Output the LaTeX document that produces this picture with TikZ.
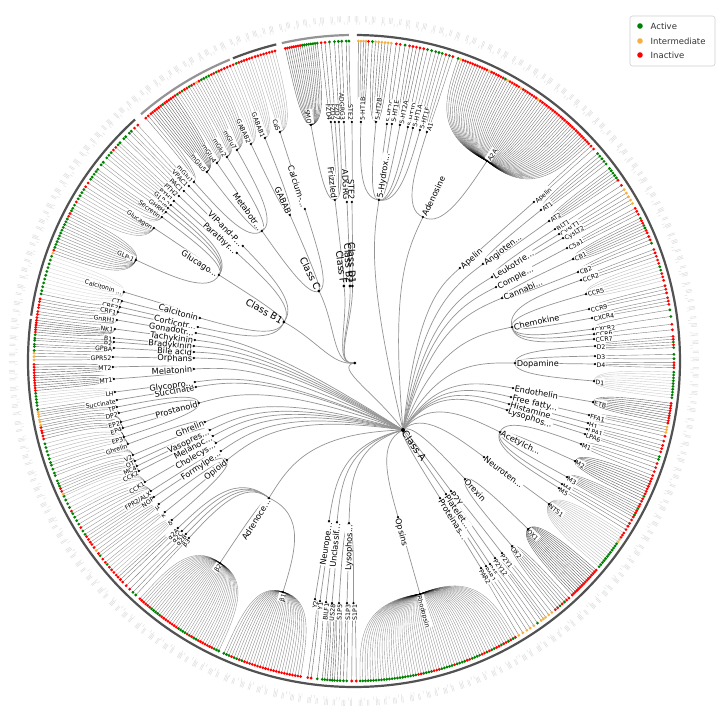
\documentclass[tikz,border=0pt]{standalone}
\usepackage{fontspec}
\setmainfont{DejaVu Sans}
\usepackage{xstring}
\definecolor{cg}{HTML}{008000}
\definecolor{co}{HTML}{F5B041}
\definecolor{cr}{HTML}{FF0000}
\tikzset{
 trline/.style={line width=0.7pt, black!42},
 leafline/.style={line width=0.4pt, black},
 fam/.style={font=\fontsize{8.2}{9}\selectfont, fill=white, text height=0.72em, text depth=0.02em, inner xsep=0.5pt, inner ysep=0.1pt, outer sep=1.4pt},
 rec/.style={font=\fontsize{6.2}{7}\selectfont, fill=white, text height=0.71em, text depth=0em, inner xsep=0.4pt, inner ysep=0pt, outer sep=1.2pt},
 cls/.style={font=\fontsize{9.5}{11}\selectfont, inner sep=2pt},
 arcdark/.style={line width=2.2pt, black!68},
 arclight/.style={line width=2.2pt, black!42},
 legtext/.style={anchor=west, inner sep=0pt, font=\fontsize{8.5}{10}\selectfont, text=black!80},
}
\newcommand\gth[1]{\csname gth@#1\endcsname}
\newcommand\grr[1]{\csname gr@#1\endcsname}
\newcommand\defn[3]{%
  \pgfmathsetmacro\tmpx{#2-354}%
  \pgfmathsetmacro\tmpy{361-#3}%
  \pgfmathsetmacro\tmpth{atan2(\tmpy,\tmpx)}%
  \pgfmathsetmacro\tmpr{veclen(\tmpx,\tmpy)}%
  \expandafter\xdef\csname gth@#1\endcsname{\tmpth}%
  \expandafter\xdef\csname gr@#1\endcsname{\tmpr}%
  \coordinate (#1) at (\tmpx pt,\tmpy pt);%
}
\newcommand\lab[3]{%
  \pgfmathsetmacro\labcos{cos(\gth{#1})}%
  \ifdim\labcos pt<-0.0001pt
    \pgfmathsetmacro\rotang{\gth{#1}+180}%
    \node[#2, anchor=east, rotate=\rotang] (#1-t) at (#1) {#3};%
  \else
    \node[#2, anchor=west, rotate=\gth{#1}] (#1-t) at (#1) {#3};%
  \fi
}
\newcommand\link[2]{%
  \pgfmathsetmacro\rmid{(\grr{#1}+\grr{#2})/2}%
  \draw[trline] (#1) .. controls (\gth{#2}:\grr{#1}pt) and (\gth{#2}:\rmid pt) .. (#2);%
}
% pass macros for tree nodes
\newcommand\ndDef[6]{\defn{#1}{#2}{#3}}
\newcommand\ndEdge[6]{\link{#4}{#1}}
\newcommand\ndNode[6]{\lab{#1}{#5}{#6}\fill[black] (#1) circle (1.25pt);}
\newcommand\cndDef[4]{\defn{#1}{#2}{#3}}
\newcommand\cndEdge[4]{%
  \pgfmathsetmacro\rmid{\grr{#1}*0.5}%
  \draw[trline] (R) .. controls (-22pt,-5pt) and (\gth{#1}:\rmid pt) .. (#1);}
\newcommand\cndNode[4]{\fill[black] (#1) circle (1.5pt);\lab{#1}{cls}{#4}}
% pass macros for leaves
\newcommand\fanLines[6]{%
  \pgfmathsetmacro\rmidf{(\grr{#1}+320)/2}%
  \foreach \i in {1,...,#4}{%
    \pgfmathsetmacro\ang{#2+((#3)-(#2))*(\i-1)/max(#4-1,1)}%
    \draw[leafline, opacity=#6] (#1) .. controls (\ang:\grr{#1}pt) and (\ang:\rmidf pt) .. (\ang:320pt);%
  }%
}
\newcommand\fanDots[6]{%
  \StrLen{#5}[\clen]%
  \foreach \i in {1,...,#4}{%
    \pgfmathsetmacro\ang{#2+((#3)-(#2))*(\i-1)/max(#4-1,1)}%
    \pgfmathtruncatemacro\ci{mod(\i-1,\clen)+1}%
    \StrChar{#5}{\ci}[\cch]%
    \edef\tmpc{c\cch}%
    \fill[fill=\tmpc] (\ang:320pt) circle (1.55pt);%
  }%
}
\newcommand\TreeData{%
\cnd{CA}{403}{430}{Class A}
\cnd{CB1}{284}{322}{Class B1}
\cnd{CC}{319}{291}{Class C}
\cnd{CD1}{352.5}{286}{Class D1}
\cnd{CB2}{350}{286}{Class B2}
\cnd{CF}{344}{286}{Class F}
\nd{Metab}{262}{231}{CC}{fam}{Metabotr...}
\nd{GABABf}{290}{215}{CC}{fam}{GABAB}
\nd{Calc}{305}{209}{CC}{fam}{Calcium-...}
\nd{mGlu1}{194}{182}{Metab}{rec}{mGlu1}
\nd{mGlu5}{207}{172}{Metab}{rec}{mGlu5}
\nd{mGlu4}{217}{163}{Metab}{rec}{mGlu4}
\nd{mGlu2}{227}{157}{Metab}{rec}{mGlu2}
\nd{mGlu7}{237}{150}{Metab}{rec}{mGlu7}
\nd{GABAB2}{251}{144}{GABABf}{rec}{GABAB2}
\nd{GABAB1}{265}{138}{GABABf}{rec}{GABAB1}
\nd{CaS}{280}{132}{Calc}{rec}{CaS}
\nd{Glucf}{219}{275}{CB1}{fam}{Glucago...}
\nd{VIPf}{243}{246}{CB1}{fam}{VIP-and-P...}
\nd{PTHf}{237}{253}{CB1}{fam}{Parathyr...}
\nd{Calcf}{200}{318}{CB1}{fam}{Calcitonin}
\nd{CRFf}{198}{327}{CB1}{fam}{Corticotr...}
\nd{VPAC1}{189}{186}{VIPf}{rec}{VPAC1}
\nd{PAC1}{184}{191}{VIPf}{rec}{PAC1}
\nd{PTH2}{179}{196}{PTHf}{rec}{PTH2}
\nd{PTH1}{174}{201}{PTHf}{rec}{PTH1}
\nd{GLP2}{171}{205}{Glucf}{rec}{GLP-2}
\nd{GIP}{168}{208}{Glucf}{rec}{GIP}
\nd{GHRH}{166}{212}{Glucf}{rec}{GHRH}
\nd{Secretin}{162}{217}{Glucf}{rec}{Secretin}
\nd{Glucagon}{154}{228}{Glucf}{rec}{Glucagon}
\nd{GLP1}{136}{260}{Glucf}{rec}{GLP-1}
\nd{CalcR}{124}{292}{Calcf}{rec}{Calcitonin ...}
\nd{CT}{122}{301}{Calcf}{rec}{CT}
\nd{CRF2}{120}{307}{CRFf}{rec}{CRF2}
\nd{CRF1}{118}{312}{CRFf}{rec}{CRF1}
\nd{Frizf}{335}{200}{CF}{fam}{Frizzled}
\nd{SMO}{311}{125}{Frizf}{rec}{SMO}
\nd{FZD4}{331}{122}{Frizf}{rec}{FZD4}
\nd{FZD5}{335}{122}{Frizf}{rec}{FZD5}
\nd{FZD7}{339}{122}{Frizf}{rec}{FZD7}
\nd{ADGRGf}{347}{202}{CB2}{fam}{ADGRG}
\nd{ADGRG3}{344}{122}{ADGRGf}{rec}{ADGRG3}
\nd{STE2f}{352}{202}{CD1}{fam}{STE2}
\nd{STE2}{352}{122}{STE2f}{rec}{STE2}
\nd{HTf}{379}{200}{CA}{fam}{5-Hydrox...}
\nd{HT1B}{361}{122}{HTf}{rec}{5-HT1B}
\nd{HT2B}{376}{122}{HTf}{rec}{5-HT2B}
\nd{HT2C}{387}{124}{HTf}{rec}{5-HT2C}
\nd{HT1E}{392}{124}{HTf}{rec}{5-HT1E}
\nd{HT2A}{400}{125}{HTf}{rec}{5-HT2A}
\nd{HT1D}{408}{127}{HTf}{rec}{5-HT1D}
\nd{HT1A}{413}{128}{HTf}{rec}{5-HT1A}
\nd{HT1F}{420}{130}{HTf}{rec}{5-HT1F}
\nd{Adof}{423}{217}{CA}{fam}{Adenosine}
\nd{A1}{427}{132}{Adof}{rec}{A1}
\nd{A2A}{487}{161}{Adof}{rec}{A2A}
\nd{Apef}{460}{268}{CA}{fam}{Apelin}
\nd{Apelin}{534}{202}{Apef}{rec}{Apelin}
\nd{Angf}{483}{264}{CA}{fam}{Angioten...}
\nd{AT1}{541}{210}{Angf}{rec}{AT1}
\nd{AT2}{549}{221}{Angf}{rec}{AT2}
\nd{Leuf}{492}{277}{CA}{fam}{Leukotrie...}
\nd{BLT1}{555}{229}{Leuf}{rec}{BLT1}
\nd{CysLT1}{559}{234}{Leuf}{rec}{CysLT1}
\nd{CysLT2}{563}{238}{Leuf}{rec}{CysLT2}
\nd{Comf}{496}{287}{CA}{fam}{Comple...}
\nd{C5a1}{567}{248}{Comf}{rec}{C5a1}
\nd{Canf}{502}{298}{CA}{fam}{Cannabi...}
\nd{CB1r}{573}{259}{Canf}{rec}{CB1}
\nd{CB2r}{578}{272}{Canf}{rec}{CB2}
\nd{Chef}{512}{327}{CA}{fam}{Chemokine}
\nd{CCR2}{581}{280}{Chef}{rec}{CCR2}
\nd{CCR5}{586}{294}{Chef}{rec}{CCR5}
\nd{CCR9}{589}{309}{Chef}{rec}{CCR9}
\nd{CXCR4}{592}{318}{Chef}{rec}{CXCR4}
\nd{CXCR2}{593}{329}{Chef}{rec}{CXCR2}
\nd{CCR6}{594}{334}{Chef}{rec}{CCR6}
\nd{CCR7}{594}{339}{Chef}{rec}{CCR7}
\nd{Dopf}{515}{363}{CA}{fam}{Dopamine}
\nd{D2}{595}{346}{Dopf}{rec}{D2}
\nd{D3}{595}{356}{Dopf}{rec}{D3}
\nd{D4}{595}{364}{Dopf}{rec}{D4}
\nd{D1}{594}{381}{Dopf}{rec}{D1}
\nd{Endf}{513}{388}{CA}{fam}{Endothelin}
\nd{ETB}{593}{402}{Endf}{rec}{ETB}
\nd{FFAf}{511}{397}{CA}{fam}{Free fatty...}
\nd{FFA1}{589}{415}{FFAf}{rec}{FFA1}
\nd{Hisf}{509}{404}{CA}{fam}{Histamine}
\nd{H1}{588}{423}{Hisf}{rec}{H1}
\nd{LysAf}{507}{410}{CA}{fam}{Lysophos...}
\nd{LPA1}{587}{429}{LysAf}{rec}{LPA1}
\nd{LPA6}{585}{434}{LysAf}{rec}{LPA6}
\nd{Acef}{500}{432}{CA}{fam}{Acetylch...}
\nd{M1}{581}{444}{Acef}{rec}{M1}
\nd{M2}{575}{461}{Acef}{rec}{M2}
\nd{M3}{567}{477}{Acef}{rec}{M3}
\nd{M4}{562}{484}{Acef}{rec}{M4}
\nd{M5}{559}{488}{Acef}{rec}{M5}
\nd{Neuf}{484}{457}{CA}{fam}{Neuroten...}
\nd{NTS1}{549}{504}{Neuf}{rec}{NTS1}
\nd{Orxf}{465}{479}{CA}{fam}{Orexin}
\nd{OX1}{528}{529}{Orxf}{rec}{OX1}
\nd{OX2}{512}{546}{Orxf}{rec}{OX2}
\nd{P2Yf}{451}{491}{CA}{fam}{P2Y}
\nd{P2Y1}{502}{553}{P2Yf}{rec}{P2Y1}
\nd{P2Y12}{495}{558}{P2Yf}{rec}{P2Y12}
\nd{Plaf}{446}{494}{CA}{fam}{Platelet...}
\nd{PAF}{490}{564}{Plaf}{rec}{PAF}
\nd{Prof}{440}{498}{CA}{fam}{Proteinas...}
\nd{PAR1}{486}{566}{Prof}{rec}{PAR1}
\nd{PAR2}{481}{568}{Prof}{rec}{PAR2}
\nd{Opsf}{398}{517}{CA}{fam}{Opsins}
\nd{Rho}{420}{594}{Opsf}{rec}{Rhodopsin}
\nd{LysSf}{349}{523}{CA}{fam}{Lysophos...}
\nd{S1P1}{353.5}{603}{LysSf}{rec}{S1P1}
\nd{S1P3}{347}{603}{LysSf}{rec}{S1P3}
\nd{S1P5}{339}{603}{LysSf}{rec}{S1P5}
\nd{Uncf}{337}{522}{CA}{fam}{Unclassif...}
\nd{US28}{332}{603}{Uncf}{rec}{US28}
\nd{BILF1}{326}{602}{Uncf}{rec}{BILF1}
\nd{NPYf}{329}{521}{CA}{fam}{Neurope...}
\nd{Y1}{320}{601}{NPYf}{rec}{Y1}
\nd{Y2}{315}{599}{NPYf}{rec}{Y2}
\nd{Adrf}{269}{498}{CA}{fam}{Adrenoce...}
\nd{b1}{283}{592}{Adrf}{rec}{β1}
\nd{b2}{220}{563}{Adrf}{rec}{β2}
\nd{b3}{189}{538}{Adrf}{rec}{β3}
\nd{a2B}{186}{534}{Adrf}{rec}{α2B}
\nd{a2C}{182}{531}{Adrf}{rec}{α2C}
\nd{a2A}{178}{528}{Adrf}{rec}{α2A}
\nd{Opif}{227}{460}{CA}{fam}{Opioid}
\nd{del}{172}{520}{Opif}{rec}{δ}
\nd{kap}{165}{512}{Opif}{rec}{κ}
\nd{mu}{159}{504}{Opif}{rec}{μ}
\nd{NOP}{154}{497}{Opif}{rec}{NOP}
\nd{Forf}{221}{451}{CA}{fam}{Formylpe...}
\nd{FPR2}{151}{491}{Forf}{rec}{FPR2/ALX}
\nd{Chof}{216}{443}{CA}{fam}{Cholecys...}
\nd{CCK1}{145}{482}{Chof}{rec}{CCK1}
\nd{CCK2}{139}{471}{Chof}{rec}{CCK2}
\nd{Melf}{213}{436}{CA}{fam}{Melanoc...}
\nd{MC4}{137}{466}{Melf}{rec}{MC4}
\nd{Vasf}{210}{430}{CA}{fam}{Vasopres...}
\nd{OT}{135}{461}{Vasf}{rec}{OT}
\nd{V2}{133}{455}{Vasf}{rec}{V2}
\nd{Ghrf}{205}{422}{CA}{fam}{Ghrelin}
\nd{GhrR}{128}{444}{Ghrf}{rec}{Ghrelin}
\nd{Prosf}{199}{403}{CA}{fam}{Prostanoid}
\nd{EP3}{124}{437}{Prosf}{rec}{EP3}
\nd{EP4}{123}{428}{Prosf}{rec}{EP4}
\nd{EP2}{121}{422}{Prosf}{rec}{EP2}
\nd{DP2}{119}{413}{Prosf}{rec}{DP2}
\nd{TP}{117}{407}{Prosf}{rec}{TP}
\nd{Sucf}{196}{387}{CA}{fam}{Succinate}
\nd{SucR}{117}{400}{Sucf}{rec}{Succinate}
\nd{Glyf}{195}{382}{CA}{fam}{Glycopro...}
\nd{LH}{115}{392}{Glyf}{rec}{LH}
\nd{Mtf}{194}{369}{CA}{fam}{Melatonin}
\nd{MT1}{114}{379}{Mtf}{rec}{MT1}
\nd{MT2}{113}{367}{Mtf}{rec}{MT2}
\nd{Orpf}{194}{358}{CA}{fam}{Orphans}
\nd{GPR52}{113}{357}{Orpf}{rec}{GPR52}
\nd{Bilf}{194}{352}{CA}{fam}{Bile acid}
\nd{GPBA}{114}{348}{Bilf}{rec}{GPBA}
\nd{Braf}{194}{346}{CA}{fam}{Bradykinin}
\nd{B2}{114}{342}{Braf}{rec}{B2}
\nd{B1}{114}{338}{Braf}{rec}{B1}
\nd{Tacf}{195}{340}{CA}{fam}{Tachykinin}
\nd{NK1}{115}{329}{Tacf}{rec}{NK1}
\nd{Gonf}{196}{333}{CA}{fam}{Gonadotr...}
\nd{GnRH1}{117}{320}{Gonf}{rec}{GnRH1}
}
\newcommand\FanData{%
\fan{mGlu1}{130.6}{129.4}{3}{rrr}{0.5}
\fan{mGlu5}{129}{124}{12}{rrrrrgrrrrrr}{0.6}
\fan{mGlu4}{123.5}{121}{6}{grgrrg}{0.4}
\fan{mGlu2}{120.5}{118}{6}{rrorgg}{0.4}
\fan{mGlu7}{117.5}{115}{6}{ggrrgr}{0.4}
\fan{GABAB2}{114.5}{112.2}{5}{rrrrr}{0.3}
\fan{GABAB1}{111.6}{108.6}{7}{grrrrrr}{0.3}
\fan{CaS}{108}{104.3}{8}{rrrrrrrr}{0.3}
\fan{SMO}{102.4}{96.6}{16}{rrrrrrrrgggggggg}{0.6}
\fan{FZD4}{95.9}{95.2}{2}{rr}{0.6}
\fan{FZD5}{94.4}{94.4}{1}{g}{0.6}
\fan{FZD7}{93.5}{92.8}{2}{gg}{0.6}
\fan{ADGRG3}{92.2}{92.2}{1}{g}{0.6}
\fan{STE2}{91.4}{90.9}{2}{gg}{0.6}
\fan{HT1B}{89.2}{87.4}{5}{oooor}{0.6}
\fan{HT2B}{86.7}{83.3}{7}{goooooo}{0.6}
\fan{HT2C}{82.4}{81.7}{2}{rr}{0.6}
\fan{HT1E}{80.8}{80.8}{1}{g}{0.6}
\fan{HT2A}{80}{78.1}{4}{rrrr}{0.6}
\fan{HT1D}{77.4}{77.4}{1}{r}{0.6}
\fan{HT1A}{76.7}{75.2}{3}{ggg}{0.5}
\fan{HT1F}{74.6}{74}{2}{gg}{0.5}
\fan{A1}{73.3}{72}{3}{rgr}{0.5}
\fan{A2A}{71}{42.8}{62}{gorrrrrrrrrrrorrrrrrgorrrrrorrrrrrrorrrrrrrrrrrrrrrrrrrrrrrrrr}{0.5}
\fan{Apelin}{42.2}{41.5}{2}{rr}{0.5}
\fan{AT1}{40.4}{38}{5}{ggggg}{0.5}
\fan{AT2}{37}{34.4}{6}{gggggr}{0.5}
\fan{BLT1}{33.3}{33.3}{1}{r}{0.5}
\fan{CysLT1}{32.4}{30.9}{3}{ooo}{0.5}
\fan{CysLT2}{30.2}{29.5}{2}{oo}{0.5}
\fan{C5a1}{28.5}{27.3}{3}{rrr}{0.5}
\fan{CB1r}{26.5}{23.6}{7}{grrggrr}{0.5}
\fan{CB2r}{22.9}{21.6}{3}{rrg}{0.5}
\fan{CCR2}{20.4}{19.1}{3}{rrr}{0.5}
\fan{CCR5}{18.4}{14.6}{7}{rrggrrr}{0.25}
\fan{CCR9}{13.6}{12.3}{3}{rrr}{0.5}
\fan{CXCR4}{11.4}{10.2}{3}{rrr}{0.5}
\fan{CXCR2}{9.2}{9.2}{1}{g}{0.5}
\fan{CCR6}{8}{8}{1}{g}{0.5}
\fan{CCR7}{6.6}{5.6}{2}{rr}{0.5}
\fan{D2}{4.4}{2.4}{5}{rrgrg}{0.5}
\fan{D3}{1.2}{0.4}{2}{gg}{0.5}
\fan{D4}{-0.3}{-1.2}{3}{rrr}{0.5}
\fan{D1}{-2}{-6.6}{10}{gggggggggg}{0.2}
\fan{ETB}{-7.6}{-11.2}{9}{rrrrrrrrr}{0.6}
\fan{FFA1}{-11.9}{-12.9}{3}{ooo}{0.5}
\fan{H1}{-13.6}{-14.5}{2}{rr}{0.5}
\fan{LPA1}{-15.3}{-16.5}{3}{rrr}{0.5}
\fan{LPA6}{-17.4}{-17.9}{2}{gg}{0.5}
\fan{M1}{-18.7}{-21}{4}{rrrr}{0.5}
\fan{M2}{-21.6}{-26}{10}{rrrrrrrgrr}{0.6}
\fan{M3}{-26.6}{-29.2}{7}{rrgrrgr}{0.5}
\fan{M4}{-29.8}{-30.5}{2}{rr}{0.5}
\fan{M5}{-31.1}{-31.8}{2}{rr}{0.5}
\fan{NTS1}{-32.5}{-40}{17}{rrroogggggggggggg}{0.25}
\fan{OX1}{-40.8}{-47}{16}{rrrrrrrrrrrrrrrr}{0.6}
\fan{OX2}{-47.8}{-51}{7}{rrgrgrr}{0.5}
\fan{P2Y1}{-51.8}{-52.5}{2}{oo}{0.5}
\fan{P2Y12}{-53.2}{-54.2}{3}{ooo}{0.5}
\fan{PAF}{-55}{-55.8}{2}{go}{0.5}
\fan{PAR1}{-56.6}{-56.6}{1}{o}{0.5}
\fan{PAR2}{-57.3}{-59}{3}{ooo}{0.5}
\fan{Rho}{-59.7}{-88.9}{62}{rgrgrrgrrggrgrrggggrrggggrgggggrrrggggrrgggggggggggggggggggggg}{0.4}
\fan{S1P1}{-89.6}{-90.4}{2}{rr}{0.6}
\fan{S1P3}{-91.3}{-91.9}{2}{gg}{0.6}
\fan{S1P5}{-92.5}{-93}{2}{gg}{0.6}
\fan{US28}{-93.5}{-94.3}{3}{ggg}{0.6}
\fan{BILF1}{-94.8}{-95.7}{3}{ggg}{0.6}
\fan{Y1}{-96.6}{-96.6}{1}{g}{0.6}
\fan{Y2}{-97.7}{-98.3}{2}{rr}{0.6}
\fan{b1}{-99.6}{-114}{30}{rrrrrrrrrrrrrrrrrrrrrrgrggrggg}{0.45}
\fan{b2}{-115}{-132}{38}{gggrrrrrrrggrgrggggrrrrrrrrgggggrrrrrr}{0.4}
\fan{b3}{-133}{-133.7}{2}{gg}{0.5}
\fan{a2B}{-134.5}{-134.5}{1}{r}{0.5}
\fan{a2C}{-135.4}{-135.4}{1}{r}{0.5}
\fan{a2A}{-136.3}{-137.5}{3}{rrr}{0.5}
\fan{del}{-138}{-140.5}{5}{rrrrg}{0.3}
\fan{kap}{-141}{-142.5}{3}{rrg}{0.4}
\fan{mu}{-143}{-145}{4}{rorr}{0.4}
\fan{NOP}{-145.5}{-146.7}{3}{rrr}{0.4}
\fan{FPR2}{-147.2}{-151.5}{7}{ggrgggg}{0.4}
\fan{CCK1}{-152}{-155}{5}{rgggg}{0.25}
\fan{CCK2}{-155.4}{-156.5}{3}{orr}{0.4}
\fan{MC4}{-157}{-157.5}{2}{gg}{0.4}
\fan{OT}{-158}{-159}{2}{gg}{0.4}
\fan{V2}{-159.5}{-161}{3}{ggg}{0.4}
\fan{GhrR}{-161.5}{-165}{6}{gggggg}{0.3}
\fan{EP3}{-165.9}{-167}{3}{rrr}{0.5}
\fan{EP4}{-167.4}{-168}{2}{rr}{0.5}
\fan{EP2}{-168.4}{-169}{2}{oo}{0.5}
\fan{DP2}{-169.4}{-170}{2}{oo}{0.5}
\fan{TP}{-170.4}{-170.8}{2}{oo}{0.5}
\fan{SucR}{-171.3}{-171.3}{1}{g}{0.5}
\fan{LH}{-172}{-174.2}{5}{ggggg}{0.2}
\fan{MT1}{-174.7}{-177}{6}{rrrrrr}{0.6}
\fan{MT2}{-177.4}{-179.4}{5}{rrrrr}{0.6}
\fan{GPR52}{179.8}{178.6}{3}{ooo}{0.5}
\fan{GPBA}{178.1}{177.4}{2}{gg}{0.5}
\fan{B2}{177}{176.3}{2}{gg}{0.5}
\fan{B1}{175.9}{175.3}{2}{gg}{0.5}
\fan{NK1}{174.8}{172.7}{6}{rrrrrr}{0.6}
\fan{GnRH1}{172.2}{171.6}{2}{rr}{0.5}
\fan{CRF1}{171.1}{170.4}{2}{rr}{0.5}
\fan{CRF2}{169.9}{169.3}{2}{rr}{0.5}
\fan{CT}{168.8}{167.9}{2}{rg}{0.5}
\fan{CalcR}{167.3}{160.9}{10}{gggggggggg}{0.15}
\fan{GLP1}{160.3}{152}{16}{orgggggggggggrrg}{0.45}
\fan{Glucagon}{151.5}{147.6}{7}{ggrgggg}{0.35}
\fan{Secretin}{147}{145.4}{3}{rrg}{0.4}
\fan{GHRH}{144.9}{143.7}{3}{ggg}{0.4}
\fan{GIP}{143.2}{142.2}{2}{gg}{0.4}
\fan{GLP2}{141.6}{140.6}{2}{gg}{0.4}
\fan{PTH1}{140}{137.5}{5}{ggrrg}{0.35}
\fan{PTH2}{137}{136}{2}{gg}{0.4}
\fan{PAC1}{135.5}{134.6}{2}{gg}{0.4}
\fan{VPAC1}{134.1}{132.5}{3}{grr}{0.4}
}
\begin{document}
\begin{tikzpicture}
\useasboundingbox (-354pt,-360pt) rectangle (366pt,361pt);
\fill[white] (-354pt,-360pt) rectangle (366pt,361pt);
% outer ring of tiny tick labels
\draw[black!13, line width=6pt, dash pattern=on 0.5pt off 0.9pt on 0.5pt off 0.9pt on 0.5pt off 5pt on 0.5pt off 0.9pt on 0.5pt off 7pt] (0,0) circle (342pt);
\draw[black!10, line width=3pt, dash pattern=on 0.5pt off 2.5pt on 0.5pt off 9pt] (0,0) circle (338pt);
\draw[arclight] (130.8:326pt) arc[start angle=130.8, end angle=112.4, radius=326pt];
\draw[arcdark] (111.8:326pt) arc[start angle=111.8, end angle=103.8, radius=326pt];
\draw[arclight] (102.8:326pt) arc[start angle=102.8, end angle=90.9, radius=326pt];
\draw[arcdark] (89.5:326pt) arc[start angle=89.5, end angle=-187.4, radius=326pt];
\draw[arcdark] (172:326pt) arc[start angle=172, end angle=132.2, radius=326pt];
% root and coordinates
\defn{R}{355}{363}
\let\nd\ndDef \let\cnd\cndDef \TreeData
% tree edges
\let\nd\ndEdge \let\cnd\cndEdge \TreeData
% leaf fans
\let\fan\fanLines \FanData
\let\fan\fanDots \FanData
% node dots and labels
\fill[black] (R) circle (1.5pt);
\let\nd\ndNode \let\cnd\cndNode \TreeData
\fill[black] (CA) circle (2pt);
% legend
\node[draw=black!18, line width=0.6pt, rounded corners=2.5pt, fill=white, minimum width=85pt, minimum height=50pt, inner sep=0pt] (leg) at (318.5pt,320pt) {};
\fill[cg] (286pt,335pt) circle (2.8pt);
\fill[co] (286pt,320pt) circle (2.8pt);
\fill[cr] (286pt,306pt) circle (2.8pt);
\node[legtext] (legA) at (296.5pt,335pt) {Active};
\node[legtext] (legI) at (296.5pt,320pt) {Intermediate};
\node[legtext] (legN) at (296.5pt,306pt) {Inactive};
\end{tikzpicture}
\end{document}
